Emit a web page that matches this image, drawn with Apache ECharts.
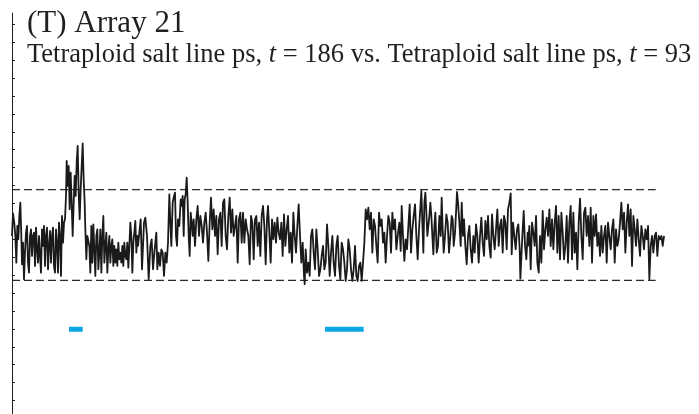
<!DOCTYPE html>
<html>
<head>
<meta charset="utf-8">
<script src="https://cdn.jsdelivr.net/npm/echarts@6/dist/echarts.min.js"></script>
<style>
html,body{margin:0;padding:0;background:#fff;}
#chart{width:699px;height:414px;}
</style>
</head>
<body>
<div id="chart"></div>
<script>
// Position along the array (arbitrary units) and log-ratio-like signal (arbitrary units)
const pos = [
0,3,7,10,13,16,19,22,25,28,30,33,36,39,42,45,48,51,54,57,60,63,66,69,72,75,78,81,84,87,90,93,96,99,102,105,108,111,114,117,120,123,126,129,132,135,138,141,144,147,150,153,156,159,162,164,167,170,173,176,179,182,185,188,191,194,197,200,203,206,209,212,215,218,220,223,226,229,232,235,238,241,244,247,250,253,256,259,262,265,268,271,274,277,280,283,286,289,292,295,298,301,304,307,310,313,316,319,322,325,328,331,334,337,340,343,346,349,352,355,358,361,364,367,370,373,376,
378,386,390,396,400,405,410,415,419,423,428,433,436,440,444,448,452,456,460,464,468,472,475,478,482,486,489,492,495,498,502,506,509,512,515,518,521,524,527,530,533,536,539,542,545,549,553,557,561,565,569,573,577,581,585,589,593,597,601,605,609,613,617,621,625,629,633,637,641,645,649,653,657,661,665,669,673,677,681,685,689,693,697,701,705,709,713,717,721,725,729,733,737,741,745,749,753,757,761,765,
768,772,776,780,784,788,792,796,800,804,808,812,816,820,824,828,832,836,840,844,848,852,856,860,864,868,872,876,878,881,885,889,893,897,901,905,909,913,917,921,925,929,933,937,941,945,949,953,957,961,965,969,973,977,981,985,989,993,997,1001,1005,1009,1013,1017,1021,1025,1029,1033,1037,1041,1045,1049,1053,1057,1061,1065,1069,1073,1077,1081,1085,1089,1093,1097,1101,1105,1109,1113,1117,1121,1125,1129,1133,1137,1141,1145,1149,1153,1157,
1158,1162,1166,1169,1173,1177,1181,1185,1189,1193,1197,1201,1205,1209,1213,1217,1221,1225,1228,1231,1234,1237,1240,1243,1246,1249,1252,1255,1258,1261,1264,1267,1270,1274,1278,1282,1286,1289,1292,1295,1299,1303,1307,1311,1315,1319,1322,1325,1329,1332,1335,1338,1342,1346,1349,1353,1356,1360,1364,1368,1372,1376,1380,1384,1388,1392,1396,1400,1404,1408,1412,1416,1420,1424,1428,1432,1436,1440,1444,1448,1452,1456,1460,1464,1468,1472,1476,1480,1484,1488,1492,1496,1499,1503,1507,1511,1515,1519,1523,1525,1531,1535,1539,1543,1547,
1548,1552,1556,1560,1564,1568,1572,1576,1580,1584,1588,1592,1596,1600,1604,1608,1612,1616,1620,1624,1628,1632,1636,1640,1644,1648,1652,1656,1660,1664,1668,1672,1676,1680,1684,1688,1692,1696,1700,1704,1708,1712,1716,1720,1724,1728,1732,1736,1740,1744,1748,1752,1756,1760,1764,1768,1772,1776,1780,1784,1788,1792,1796,1800,1804,1808,1812,1816,1820,1824,1828,1832,1836,1840,1844,1848,1852,1856,1860,1864,1868,1872,1876,1880,1884,1888,1892,1896,1900,1904,1908,1912,1916,1920,1924,1928,1932,1936,1940,1944,1948,1952,1956
];
const signal = [
1.0,7.8,4.8,1.0,-7.0,4.0,0.0,7.0,11.0,1.0,-7.5,-1.0,-12.0,-4.0,2.0,4.0,-7.0,-10.0,1.0,3.0,-5.0,1.0,2.0,-8.0,3.5,-3.0,-7.0,1.0,-5.0,-10.0,3.0,-2.0,4.0,-8.0,1.0,3.5,-9.0,-2.0,2.5,-7.0,1.0,3.5,-8.0,-10.0,3.0,-1.0,-10.0,5.0,1.0,-11.0,7.0,-1.0,5.0,6.0,13.0,23.5,16.0,22.0,9.0,20.0,11.0,1.0,11.0,19.0,13.0,23.0,28.0,14.0,6.0,15.0,22.0,28.8,18.0,11.0,3.0,-6.0,1.0,1.0,-2.0,-10.0,4.0,-7.0,4.5,-3.0,-11.0,1.0,3.0,-9.0,-4.0,3.0,-10.0,1.0,7.0,-7.0,-2.0,2.0,-10.0,-3.0,1.0,-7.0,-2.0,0.0,-8.0,-2.0,-7.0,-3.0,-8.0,-1.0,-6.0,-4.0,-7.0,-2.0,-8.0,-1.0,-5.0,-6.0,-1.0,-8.5,-2.0,5.0,1.0,-10.0,-1.0,2.0,5.5,-4.0,1.0,
-2.0,6.0,-9.0,5.0,6.5,1.0,-12.0,-2.0,0.0,-9.0,-3.0,2.0,-9.0,-4.0,-8.0,-3.0,-4.0,-11.0,-4.0,-7.0,-1.0,13.5,5.0,-2.0,11.0,13.0,14.0,1.0,-2.0,6.0,4.0,12.0,10.0,13.0,1.0,12.0,13.5,18.5,11.0,1.0,-5.0,8.0,5.0,1.0,6.0,-2.0,6.0,10.0,1.0,7.0,4.0,-1.0,5.0,8.0,2.0,-6.5,5.0,12.5,3.0,9.0,1.0,7.0,-4.5,6.0,8.0,-2.0,11.0,12.0,1.0,-3.0,7.0,12.5,2.0,9.0,1.0,4.0,7.0,-7.0,6.0,8.0,-1.0,8.0,-1.0,6.0,3.0,1.0,-7.5,7.0,5.0,-6.0,6.0,7.0,-2.0,5.0,-5.0,7.0,10.0,4.0,-7.5,6.0,
10.0,2.0,-7.0,6.0,0.0,5.0,-1.0,6.5,2.0,0.0,5.0,-5.0,7.5,-2.0,3.0,7.0,-4.0,2.0,-7.0,8.0,1.0,-4.0,4.0,10.5,1.0,-7.0,-1.0,-11.0,-13.5,-3.0,-10.0,-7.0,-11.0,1.0,3.0,-4.0,-9.0,3.0,-3.0,-11.0,-9.0,-5.0,-2.0,-9.0,-7.0,4.5,-2.0,-11.0,-4.0,1.0,-7.0,-11.0,-2.0,1.0,-8.0,-12.0,-1.0,-3.0,-7.0,-12.5,-9.0,0.0,-3.0,-9.0,-12.5,-9.0,-2.0,-11.0,-12.5,-8.0,-7.0,-12.5,-7.0,-1.0,9.0,6.0,9.5,3.0,8.0,-4.0,6.0,4.0,-2.0,-7.0,8.0,4.0,6.0,-1.0,2.0,-7.0,1.0,7.0,5.0,-4.0,8.0,3.0,6.0,-3.0,1.0,
1.0,5.0,-3.5,10.0,1.0,-6.5,0.0,-3.0,4.0,10.5,-4.0,3.0,7.0,10.5,1.0,-6.0,3.0,9.5,14.5,5.0,-4.0,11.0,14.0,8.0,1.0,4.0,7.0,11.0,7.0,1.0,-4.5,4.0,8.0,-4.0,-2.0,7.0,1.0,12.5,3.0,-4.0,1.0,7.5,5.0,-4.0,1.0,7.0,6.0,-2.0,2.0,8.0,14.2,11.0,5.0,-2.0,11.0,1.0,6.0,-2.0,-7.5,1.0,4.0,-3.0,-7.0,1.0,-4.0,4.5,1.0,-7.0,1.0,6.5,-1.0,-5.0,5.5,0.0,7.0,-2.0,-5.5,7.5,1.0,-3.0,3.0,9.0,-2.0,4.0,6.0,-4.0,7.0,5.0,-3.0,9.0,11.0,13.8,-4.5,5.0,1.0,-3.0,3.0,4.5,-3.0,-11.8,1.0,8.5,-2.0,-6.0,2.0,
-2.0,4.0,-9.0,5.0,2.0,-2.0,7.0,-7.0,-10.0,1.0,-7.0,8.5,-3.0,3.0,6.5,1.0,9.0,-2.0,6.0,-3.0,5.0,10.0,-4.0,7.0,-6.0,8.0,2.0,-6.0,-2.0,7.0,-7.0,5.0,10.0,-6.0,8.0,-4.0,2.0,-9.0,5.0,12.2,1.0,-6.0,8.0,9.5,1.0,7.0,-2.0,9.5,-7.0,7.0,1.0,7.5,-2.0,2.0,-5.0,4.0,-4.0,1.0,4.0,-7.0,5.0,1.0,-3.0,3.0,6.0,-7.0,3.0,-2.0,0.0,5.0,11.0,3.0,8.0,-4.0,5.0,10.5,1.0,9.0,-8.0,7.0,3.0,-2.0,6.0,0.0,-5.0,4.0,1.0,-3.0,3.0,0.0,4.0,-12.0,-2.0,1.0,-4.0,1.0,2.0,-5.0,1.0,0.0,1.0,-2.0,1.0
];
// Threshold levels (dashed) and their extent
const upperThreshold = 14.9;
const lowerThreshold = -12.3;
const thresholdExtent = [0, 1931];
// Called segments (blue bars): [start, end, level]
const segments = [[171, 212, -27], [939, 1055, -27]];
// Axis settings
const yTickStep = 5.376;
const yTickValues = [];
for (let k = -12; k <= 12; k++) yTickValues.push(+(k * yTickStep).toFixed(3));
const yMin = -12 * yTickStep;
const yMax = 67.89;
const xMax = 1958;

const titleText = '(T) Array 21';
const subtitleText = 'Tetraploid salt line ps, {i|t} = 186 vs. Tetraploid salt line ps, {i|t} = 93';

const lineData = pos.map((p, i) => [p, signal[i]]);

const series = [
  {
    type: 'line', data: lineData, showSymbol: false, symbol: 'none',
    lineStyle: { color: '#1a1a1a', width: 1.8, join: 'round' }, z: 3, silent: true
  },
  {
    type: 'line', data: [[thresholdExtent[0], upperThreshold], [thresholdExtent[1], upperThreshold]],
    showSymbol: false, symbol: 'none',
    lineStyle: { color: '#2a2a2a', width: 1.3, type: [8, 4] }, z: 2
  },
  {
    type: 'line', data: [[thresholdExtent[0], lowerThreshold], [thresholdExtent[1], lowerThreshold]],
    showSymbol: false, symbol: 'none',
    lineStyle: { color: '#2a2a2a', width: 1.3, type: [8, 4] }, z: 2
  }
];
segments.forEach(s => {
  series.push({
    type: 'line', data: [[s[0], s[2]], [s[1], s[2]]], showSymbol: false, symbol: 'none',
    lineStyle: { color: '#0aa6e6', width: 5, cap: 'butt' }, z: 2
  });
});

const chart = echarts.init(document.getElementById('chart'), null, { renderer: 'canvas' });
chart.setOption({
  animation: false,
  backgroundColor: '#ffffff',
  title: [
    {
      text: titleText, left: 27, top: 8, padding: 0,
      textStyle: { fontFamily: 'Liberation Serif', fontSize: 31, fontWeight: 'normal', color: '#231f20' }
    },
    {
      text: subtitleText, left: 27, top: 42, padding: 0,
      textStyle: {
        fontFamily: 'Liberation Serif', fontSize: 26.5, fontWeight: 'normal', color: '#231f20',
        rich: { i: { fontFamily: 'Liberation Serif', fontSize: 26.5, fontStyle: 'italic', color: '#231f20' } }
      }
    }
  ],
  grid: { left: 12, top: 13, width: 652.7, height: 441.34, containLabel: false, outerBoundsMode: 'none' },
  xAxis: { type: 'value', min: 0, max: xMax, show: false },
  yAxis: {
    type: 'value', min: yMin, max: yMax, interval: yTickStep,
    axisLine: { show: true, lineStyle: { color: '#231f20', width: 1 } },
    axisTick: { show: true, inside: true, length: 3, customValues: yTickValues, lineStyle: { color: '#231f20', width: 1 } },
    axisLabel: { show: false },
    splitLine: { show: false }
  },
  series: series
});
</script>
</body>
</html>
